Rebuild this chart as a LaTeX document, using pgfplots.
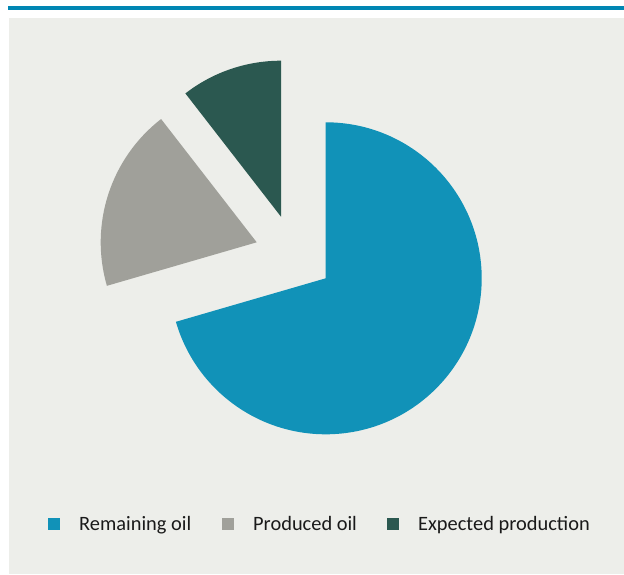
\documentclass[border=0pt]{standalone}
\usepackage{pgfplots}
\pgfplotsset{compat=1.18}
\usepackage{pgfplotstable}
\usepackage{fontspec}
\setmainfont{Carlito}
\definecolor{bgc}{HTML}{EDEEEA}
\definecolor{topline}{HTML}{0086B3}
\definecolor{slice0}{HTML}{1192B8}
\definecolor{slice1}{HTML}{A0A09A}
\definecolor{slice2}{HTML}{2B5850}
\definecolor{txt}{HTML}{1A1A1A}

% share (percent) and explosion offset of each slice
\pgfplotstableread{
name value dx dy
Remaining 70.5 0 0
Produced 19.0 -69 36
Expected 10.5 -44.7 61.6
}\piedata

\begin{document}
\begin{tikzpicture}
\begin{axis}[x=1pt, y=1pt, xmin=0, xmax=624, ymin=0, ymax=574,
  hide axis, clip=false]
  % backgrounds
  \fill[white] (axis cs:0,0) rectangle (axis cs:624,574);
  \fill[topline] (axis cs:8,564) rectangle (axis cs:624,568);
  \fill[bgc] (axis cs:9,0) rectangle (axis cs:624,556);
  % pie slices
  \def\angstart{90}
  \pgfplotsforeachungrouped \i in {0,1,2}{%
    \pgfplotstablegetelem{\i}{value}\of\piedata \let\v=\pgfplotsretval
    \pgfplotstablegetelem{\i}{dx}\of\piedata \let\ddx=\pgfplotsretval
    \pgfplotstablegetelem{\i}{dy}\of\piedata \let\ddy=\pgfplotsretval
    \pgfmathsetmacro\angend{\angstart-3.6*\v}%
    \pgfmathsetmacro\cx{325.7+\ddx}%
    \pgfmathsetmacro\cy{295.7+\ddy}%
    \edef\cmd{\noexpand\fill[slice\i] (axis cs:\cx,\cy) -- ++(\angstart:156pt)
      arc[start angle=\angstart, end angle=\angend, radius=156pt] -- cycle;}%
    \cmd
    \global\let\angstart\angend
  }
  % legend
  \fill[slice0] (axis cs:48,44.5) rectangle (axis cs:60,56.5);
  \fill[slice1] (axis cs:222,44.5) rectangle (axis cs:234,56.5);
  \fill[slice2] (axis cs:387,44.5) rectangle (axis cs:399,56.5);
  \node[anchor=base west, inner sep=0pt, text=txt, font=\fontsize{20.4}{24}\selectfont] at (axis cs:79,44) {Remaining oil};
  \node[anchor=base west, inner sep=0pt, text=txt, font=\fontsize{20.4}{24}\selectfont] at (axis cs:253,44) {Produced oil};
  \node[anchor=base west, inner sep=0pt, text=txt, font=\fontsize{20.4}{24}\selectfont] at (axis cs:418,44) {Expected production};
\end{axis}
\end{tikzpicture}
\end{document}
